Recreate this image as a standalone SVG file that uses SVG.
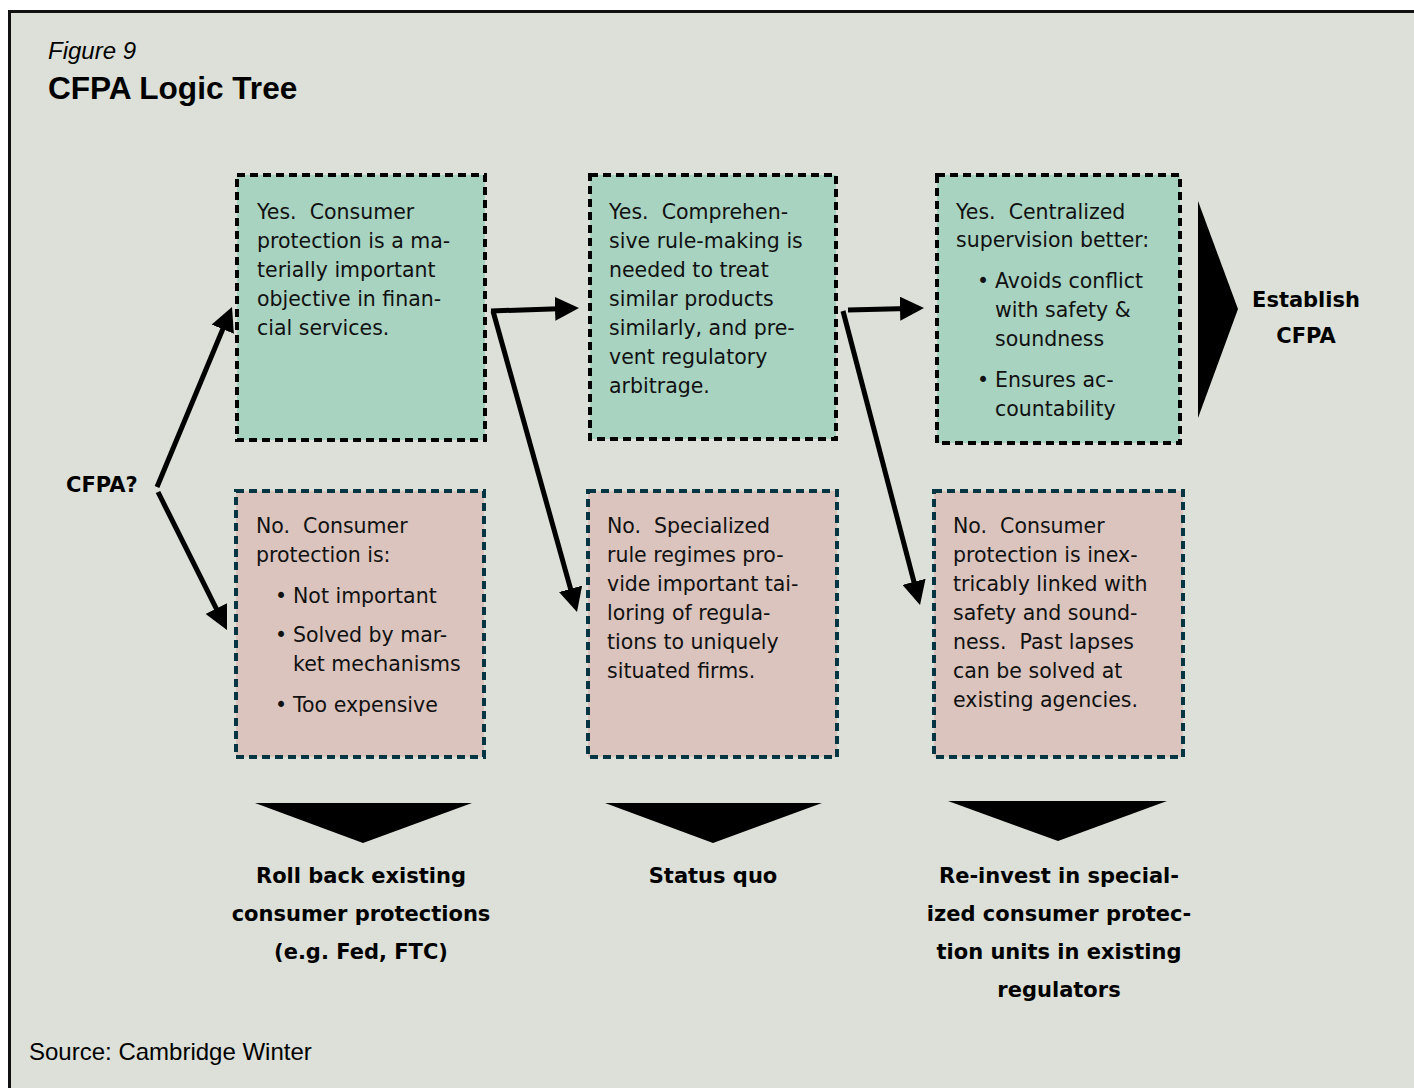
<svg xmlns="http://www.w3.org/2000/svg" width="1414" height="1088" viewBox="0 0 1414 1088">
<style>
.frame{fill:#DCE0D8;stroke:#111;stroke-width:3}
.yes{fill:#A8D3C1;stroke:#000;stroke-width:4;stroke-dasharray:8 5}
.no{fill:#DAC4BD;stroke:#053542;stroke-width:4;stroke-dasharray:8 5}
.body{font-family:"DejaVu Sans","Verdana",sans-serif;font-size:20.5px;fill:#111}
.bold{font-family:"DejaVu Sans","Verdana",sans-serif;font-size:21px;font-weight:bold;fill:#000}
.c{text-anchor:middle}
.conn{stroke:#000;stroke-width:5;fill:none;marker-end:url(#ah)}
.big{fill:#000}
</style>
<defs>
<marker id="ah" markerUnits="userSpaceOnUse" viewBox="0 0 24 24" markerWidth="24" markerHeight="24" refX="18" refY="12" orient="auto">
<path d="M0,0 L24,12 L0,24 z" fill="#000"/>
</marker>
</defs>
<rect width="1414" height="1088" fill="#fff"/>
<rect class="frame" x="9.5" y="11.5" width="1420" height="1100"/>
<g id="title">
<text x="48" y="59" font-family="Liberation Sans, Arial, sans-serif" font-style="italic" font-size="24" fill="#000">Figure 9</text>
<text x="48" y="99" font-family="Liberation Sans, Arial, sans-serif" font-weight="bold" font-size="31.6" fill="#000">CFPA Logic Tree</text>
</g>
<g id="start">
<text class="bold" x="66" y="492">CFPA?</text>
</g>
<g id="yes1">
<rect class="yes" x="237" y="175" width="248" height="265"/>
<text class="body" xml:space="preserve"><tspan x="257" y="219">Yes.  Consumer</tspan><tspan x="257" y="248">protection is a ma-</tspan><tspan x="257" y="277">terially important</tspan><tspan x="257" y="306">objective in finan-</tspan><tspan x="257" y="335">cial services.</tspan></text>
</g>
<g id="yes2">
<rect class="yes" x="590" y="175" width="246" height="264"/>
<text class="body" xml:space="preserve"><tspan x="609" y="219">Yes.  Comprehen-</tspan><tspan x="609" y="248">sive rule-making is</tspan><tspan x="609" y="277">needed to treat</tspan><tspan x="609" y="306">similar products</tspan><tspan x="609" y="335">similarly, and pre-</tspan><tspan x="609" y="364">vent regulatory</tspan><tspan x="609" y="393">arbitrage.</tspan></text>
</g>
<g id="yes3">
<rect class="yes" x="937" y="175" width="243" height="268"/>
<text class="body" xml:space="preserve"><tspan x="977" y="288">•</tspan><tspan x="956" y="219">Yes.  Centralized</tspan><tspan x="956" y="247">supervision better:</tspan><tspan x="995" y="288">Avoids conflict</tspan><tspan x="995" y="317">with safety &amp;</tspan><tspan x="995" y="346">soundness</tspan><tspan x="977" y="387">•</tspan><tspan x="995" y="387">Ensures ac-</tspan><tspan x="995" y="416">countability</tspan></text>
</g>
<g id="no1">
<rect class="no" x="236" y="491" width="248" height="266"/>
<text class="body" xml:space="preserve"><tspan x="256" y="533">No.  Consumer</tspan><tspan x="256" y="562">protection is:</tspan><tspan x="275" y="603">•</tspan><tspan x="293" y="603">Not important</tspan><tspan x="275" y="642">•</tspan><tspan x="293" y="642">Solved by mar-</tspan><tspan x="293" y="671">ket mechanisms</tspan><tspan x="275" y="712">•</tspan><tspan x="293" y="712">Too expensive</tspan></text>
</g>
<g id="no2">
<rect class="no" x="588" y="491" width="249" height="266"/>
<text class="body" xml:space="preserve"><tspan x="607" y="533">No.  Specialized</tspan><tspan x="607" y="562">rule regimes pro-</tspan><tspan x="607" y="591">vide important tai-</tspan><tspan x="607" y="620">loring of regula-</tspan><tspan x="607" y="649">tions to uniquely</tspan><tspan x="607" y="678">situated firms.</tspan></text>
</g>
<g id="no3">
<rect class="no" x="934" y="491" width="249" height="266"/>
<text class="body" xml:space="preserve"><tspan x="953" y="533">No.  Consumer</tspan><tspan x="953" y="562">protection is inex-</tspan><tspan x="953" y="591">tricably linked with</tspan><tspan x="953" y="620">safety and sound-</tspan><tspan x="953" y="649">ness.  Past lapses</tspan><tspan x="953" y="678">can be solved at</tspan><tspan x="953" y="707">existing agencies.</tspan></text>
</g>
<g id="outcome-establish">
<polygon class="big" points="1198,201 1238,309 1198,418"/>
<text class="bold c" x="1306" y="307">Establish</text>
<text class="bold c" x="1306" y="343">CFPA</text>
</g>
<g id="outcome-rollback">
<polygon class="big" points="255,803 472,803 363,843"/>
<text class="bold c" x="361" y="883">Roll back existing</text>
<text class="bold c" x="361" y="921">consumer protections</text>
<text class="bold c" x="361" y="959">(e.g. Fed, FTC)</text>
</g>
<g id="outcome-statusquo">
<polygon class="big" points="605,803 822,803 713,843"/>
<text class="bold c" x="713" y="883">Status quo</text>
</g>
<g id="outcome-reinvest">
<polygon class="big" points="948,801 1167,801 1058,841"/>
<text class="bold c" x="1059" y="883">Re-invest in special-</text>
<text class="bold c" x="1059" y="921">ized consumer protec-</text>
<text class="bold c" x="1059" y="959">tion units in existing</text>
<text class="bold c" x="1059" y="997">regulators</text>
</g>
<g id="connectors">
<line class="conn" x1="157" y1="487" x2="229.7" y2="312.5"/>
<line class="conn" x1="158" y1="492" x2="224.3" y2="624.6"/>
<line class="conn" x1="491" y1="311" x2="573" y2="308.2"/>
<line class="conn" x1="493" y1="311" x2="575.4" y2="606.2"/>
<line class="conn" x1="848" y1="310" x2="918" y2="308.2"/>
<line class="conn" x1="843" y1="311" x2="918.5" y2="599.2"/>
</g>
<g id="source">
<text x="29" y="1060" font-family="Liberation Sans, Arial, sans-serif" font-size="24" fill="#000">Source: Cambridge Winter</text>
</g>
</svg>
